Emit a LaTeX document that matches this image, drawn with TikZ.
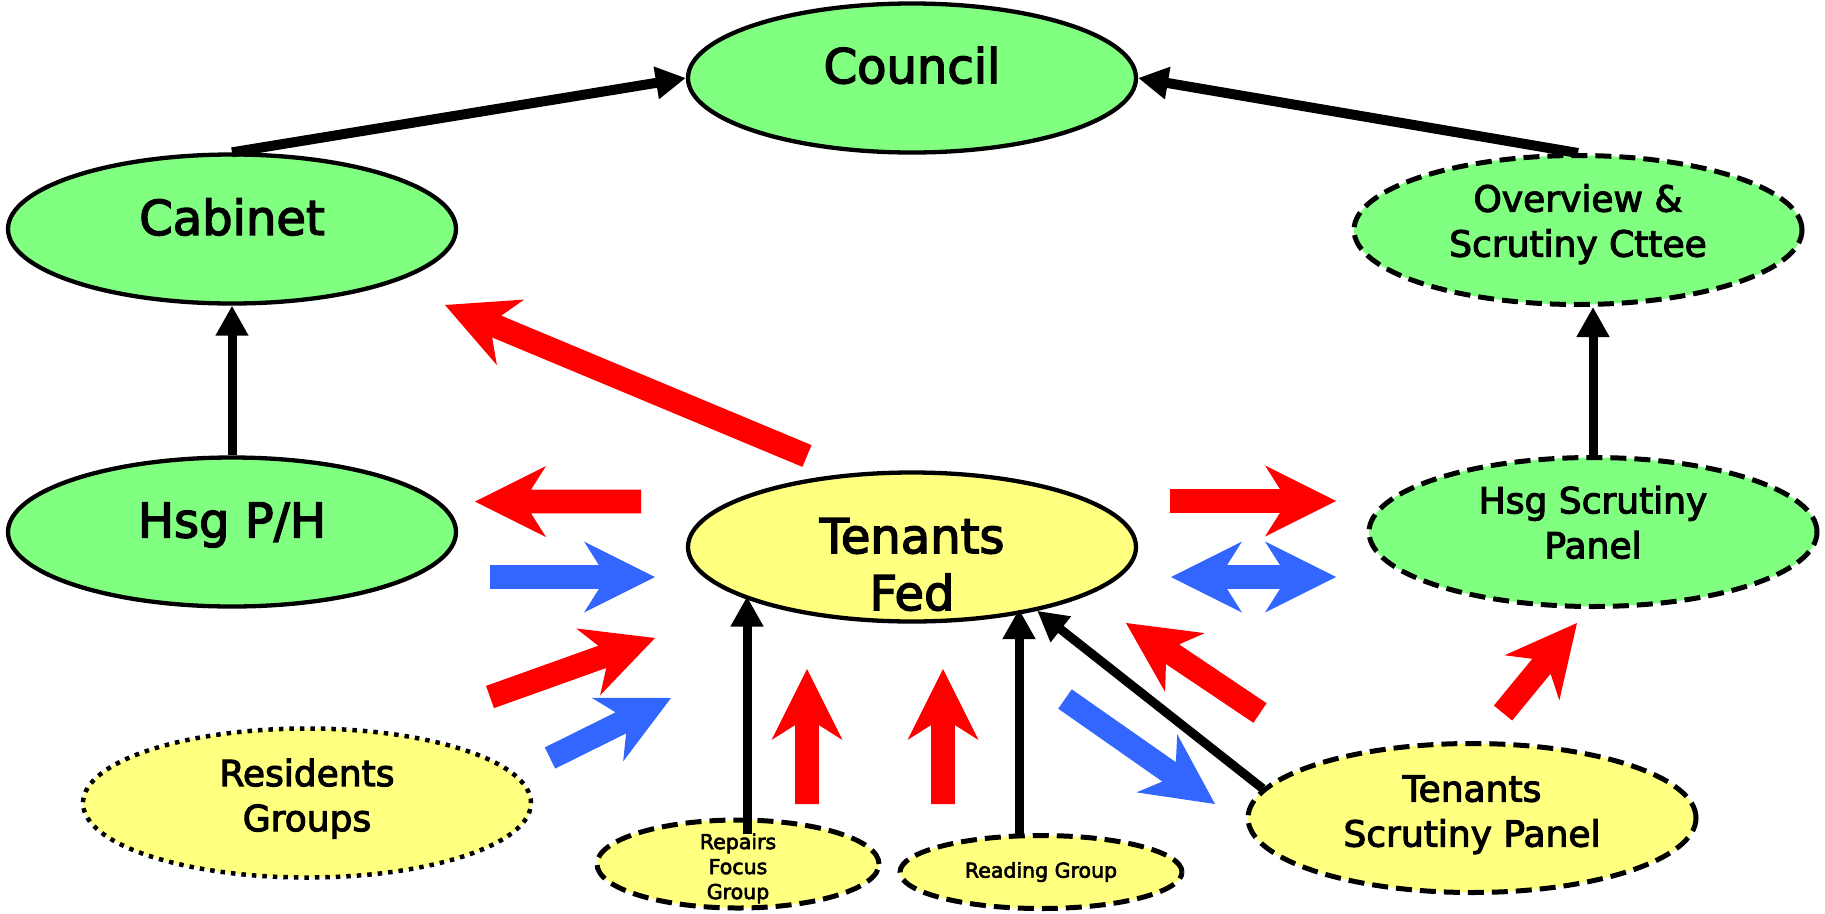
\documentclass[tikz,border=0pt]{standalone}
\usepackage{fontspec}
\setmainfont{DejaVu Sans}
\newfontfamily\lblfont[FakeBold=3]{DejaVu Sans}
\usetikzlibrary{shapes.geometric,arrows.meta,calc}
\definecolor{ngreen}{HTML}{80FF80}
\definecolor{nyellow}{HTML}{FFFF80}
\definecolor{ared}{HTML}{FF0000}
\definecolor{ablue}{HTML}{3366FF}
\newcommand\bigtxt{\lblfont\fontsize{48}{57}\selectfont}
\newcommand\midtxt{\lblfont\fontsize{36}{45}\selectfont}
\newcommand\smltxt{\lblfont\fontsize{20.5}{25}\selectfont}
% block arrow: colour, tail, tip
\newcommand\blkarrow[3]{%
  \coordinate (ba-t) at #2;
  \coordinate (ba-p) at #3;
  \coordinate (ba-n) at ($(ba-p)!56pt!(ba-t)$);
  \coordinate (ba-c) at ($(ba-p)!71pt!(ba-t)$);
  \fill[#1] ($(ba-t)!11.8pt!90:(ba-p)$) -- ($(ba-n)!11.8pt!90:(ba-p)$)
    -- ($(ba-c)!35.5pt!90:(ba-p)$) -- (ba-p) -- ($(ba-c)!35.5pt!-90:(ba-p)$)
    -- ($(ba-n)!11.8pt!-90:(ba-p)$) -- ($(ba-t)!11.8pt!-90:(ba-p)$) -- cycle;}
% double block arrow: colour, end a, end b
\newcommand\dblarrow[3]{%
  \coordinate (da-a) at #2;
  \coordinate (da-b) at #3;
  \coordinate (da-na) at ($(da-a)!56pt!(da-b)$);
  \coordinate (da-ca) at ($(da-a)!71pt!(da-b)$);
  \coordinate (da-nb) at ($(da-b)!56pt!(da-a)$);
  \coordinate (da-cb) at ($(da-b)!71pt!(da-a)$);
  \fill[#1] (da-a) -- ($(da-ca)!35.5pt!90:(da-b)$) -- ($(da-na)!11.8pt!90:(da-b)$)
    -- ($(da-nb)!11.8pt!90:(da-b)$) -- ($(da-cb)!35.5pt!90:(da-b)$) -- (da-b)
    -- ($(da-cb)!35.5pt!-90:(da-b)$) -- ($(da-nb)!11.8pt!-90:(da-b)$)
    -- ($(da-na)!11.8pt!-90:(da-b)$) -- ($(da-ca)!35.5pt!-90:(da-b)$) -- cycle;}
\tikzset{
  ell/.style={ellipse, draw=black, line width=4.3pt, inner sep=0pt,
    minimum width=448pt, minimum height=149pt},
  dsh/.style={line width=5pt, dash pattern=on 16pt off 8pt},
  dtd/.style={line width=4.5pt, dash pattern=on 4.5pt off 6pt},
  lbl/.style={align=center, text=black, inner sep=0pt},
  conn/.style={line width=9pt, -{Triangle[length=30pt,width=31pt]}},
  topconn/.style={conn, line width=10pt},
}
\begin{document}
\begin{tikzpicture}[x=1pt,y=-1pt]
\useasboundingbox (0,0) rectangle (1825,913);
% nodes
\node[ell,fill=ngreen,label={[lbl,font=\bigtxt,yshift=12.7pt]center:Council}] (council) at (912,78) {};
\node[ell,fill=ngreen,label={[lbl,font=\bigtxt,yshift=12pt]center:Cabinet}] (cab) at (232,229) {};
\node[ell,fill=ngreen,dsh,label={[lbl,font=\midtxt,yshift=5.8pt]center:{Overview \&\\Scrutiny Cttee}}] (ov) at (1578,230) {};
\node[ell,fill=ngreen,label={[lbl,font=\bigtxt,yshift=7pt]center:Hsg P/H}] (hph) at (232,532) {};
\node[ell,fill=nyellow,label={[lbl,font=\bigtxt,yshift=-17.5pt]center:{Tenants\\Fed}}] (tf) at (912,547) {};
\node[ell,fill=ngreen,dsh,label={[lbl,font=\midtxt,yshift=9.6pt]center:{Hsg Scrutiny\\Panel}}] (hsp) at (1593,532) {};
\node[ell,fill=nyellow,dtd,label={[lbl,font=\midtxt,yshift=4.3pt]center:{Residents\\Groups}}] (res) at (307,803) {};
\node[ell,fill=nyellow,dsh,label={[lbl,font=\midtxt,yshift=3.3pt]center:{Tenants\\Scrutiny Panel}}] (tsp) at (1472,818) {};
\node[ell,fill=nyellow,dsh,minimum width=282pt,minimum height=88pt,label={[lbl,font=\smltxt,yshift=-4.4pt]center:{Repairs\\Focus\\Group}}] (rep) at (738,864) {};
\node[ell,fill=nyellow,dsh,minimum width=282pt,minimum height=73pt,label={[lbl,font=\smltxt]center:Reading Group}] (rdg) at (1041,872) {};
% black connectors
\draw[topconn] (cab.north) -- (council.west);
\draw[topconn] (ov.north) -- (council.east);
\draw[conn] (hph.north) -- (cab.south);
\draw[conn] (hsp.north) -- (hsp.north |- ov.south);
\coordinate (repTop) at (747,834);
\draw[conn] (repTop) -- (repTop |- tf.196);
\coordinate (rdgTop) at (1019,836);
\draw[conn] (rdgTop) -- (rdgTop |- tf.335);
\draw[conn] (tsp.172) -- (tf.333);
% block arrows
\blkarrow{ared}{(807,456)}{(445,305)}
\blkarrow{ared}{(641,501.5)}{(475,501.5)}
\blkarrow{ablue}{(490,577)}{(655,577)}
\blkarrow{ared}{(490,697)}{(655,638)}
\blkarrow{ablue}{(550,758)}{(671,698)}
\blkarrow{ared}{(807,804)}{(807,669)}
\blkarrow{ared}{(943,804)}{(943,669)}
\blkarrow{ablue}{(1065,699)}{(1215,804)}
\blkarrow{ared}{(1260,713)}{(1126,623)}
\blkarrow{ared}{(1170,501)}{(1336,501)}
\dblarrow{ablue}{(1171,577)}{(1336,577)}
\blkarrow{ared}{(1503,713)}{(1577,623)}
\end{tikzpicture}
\end{document}
